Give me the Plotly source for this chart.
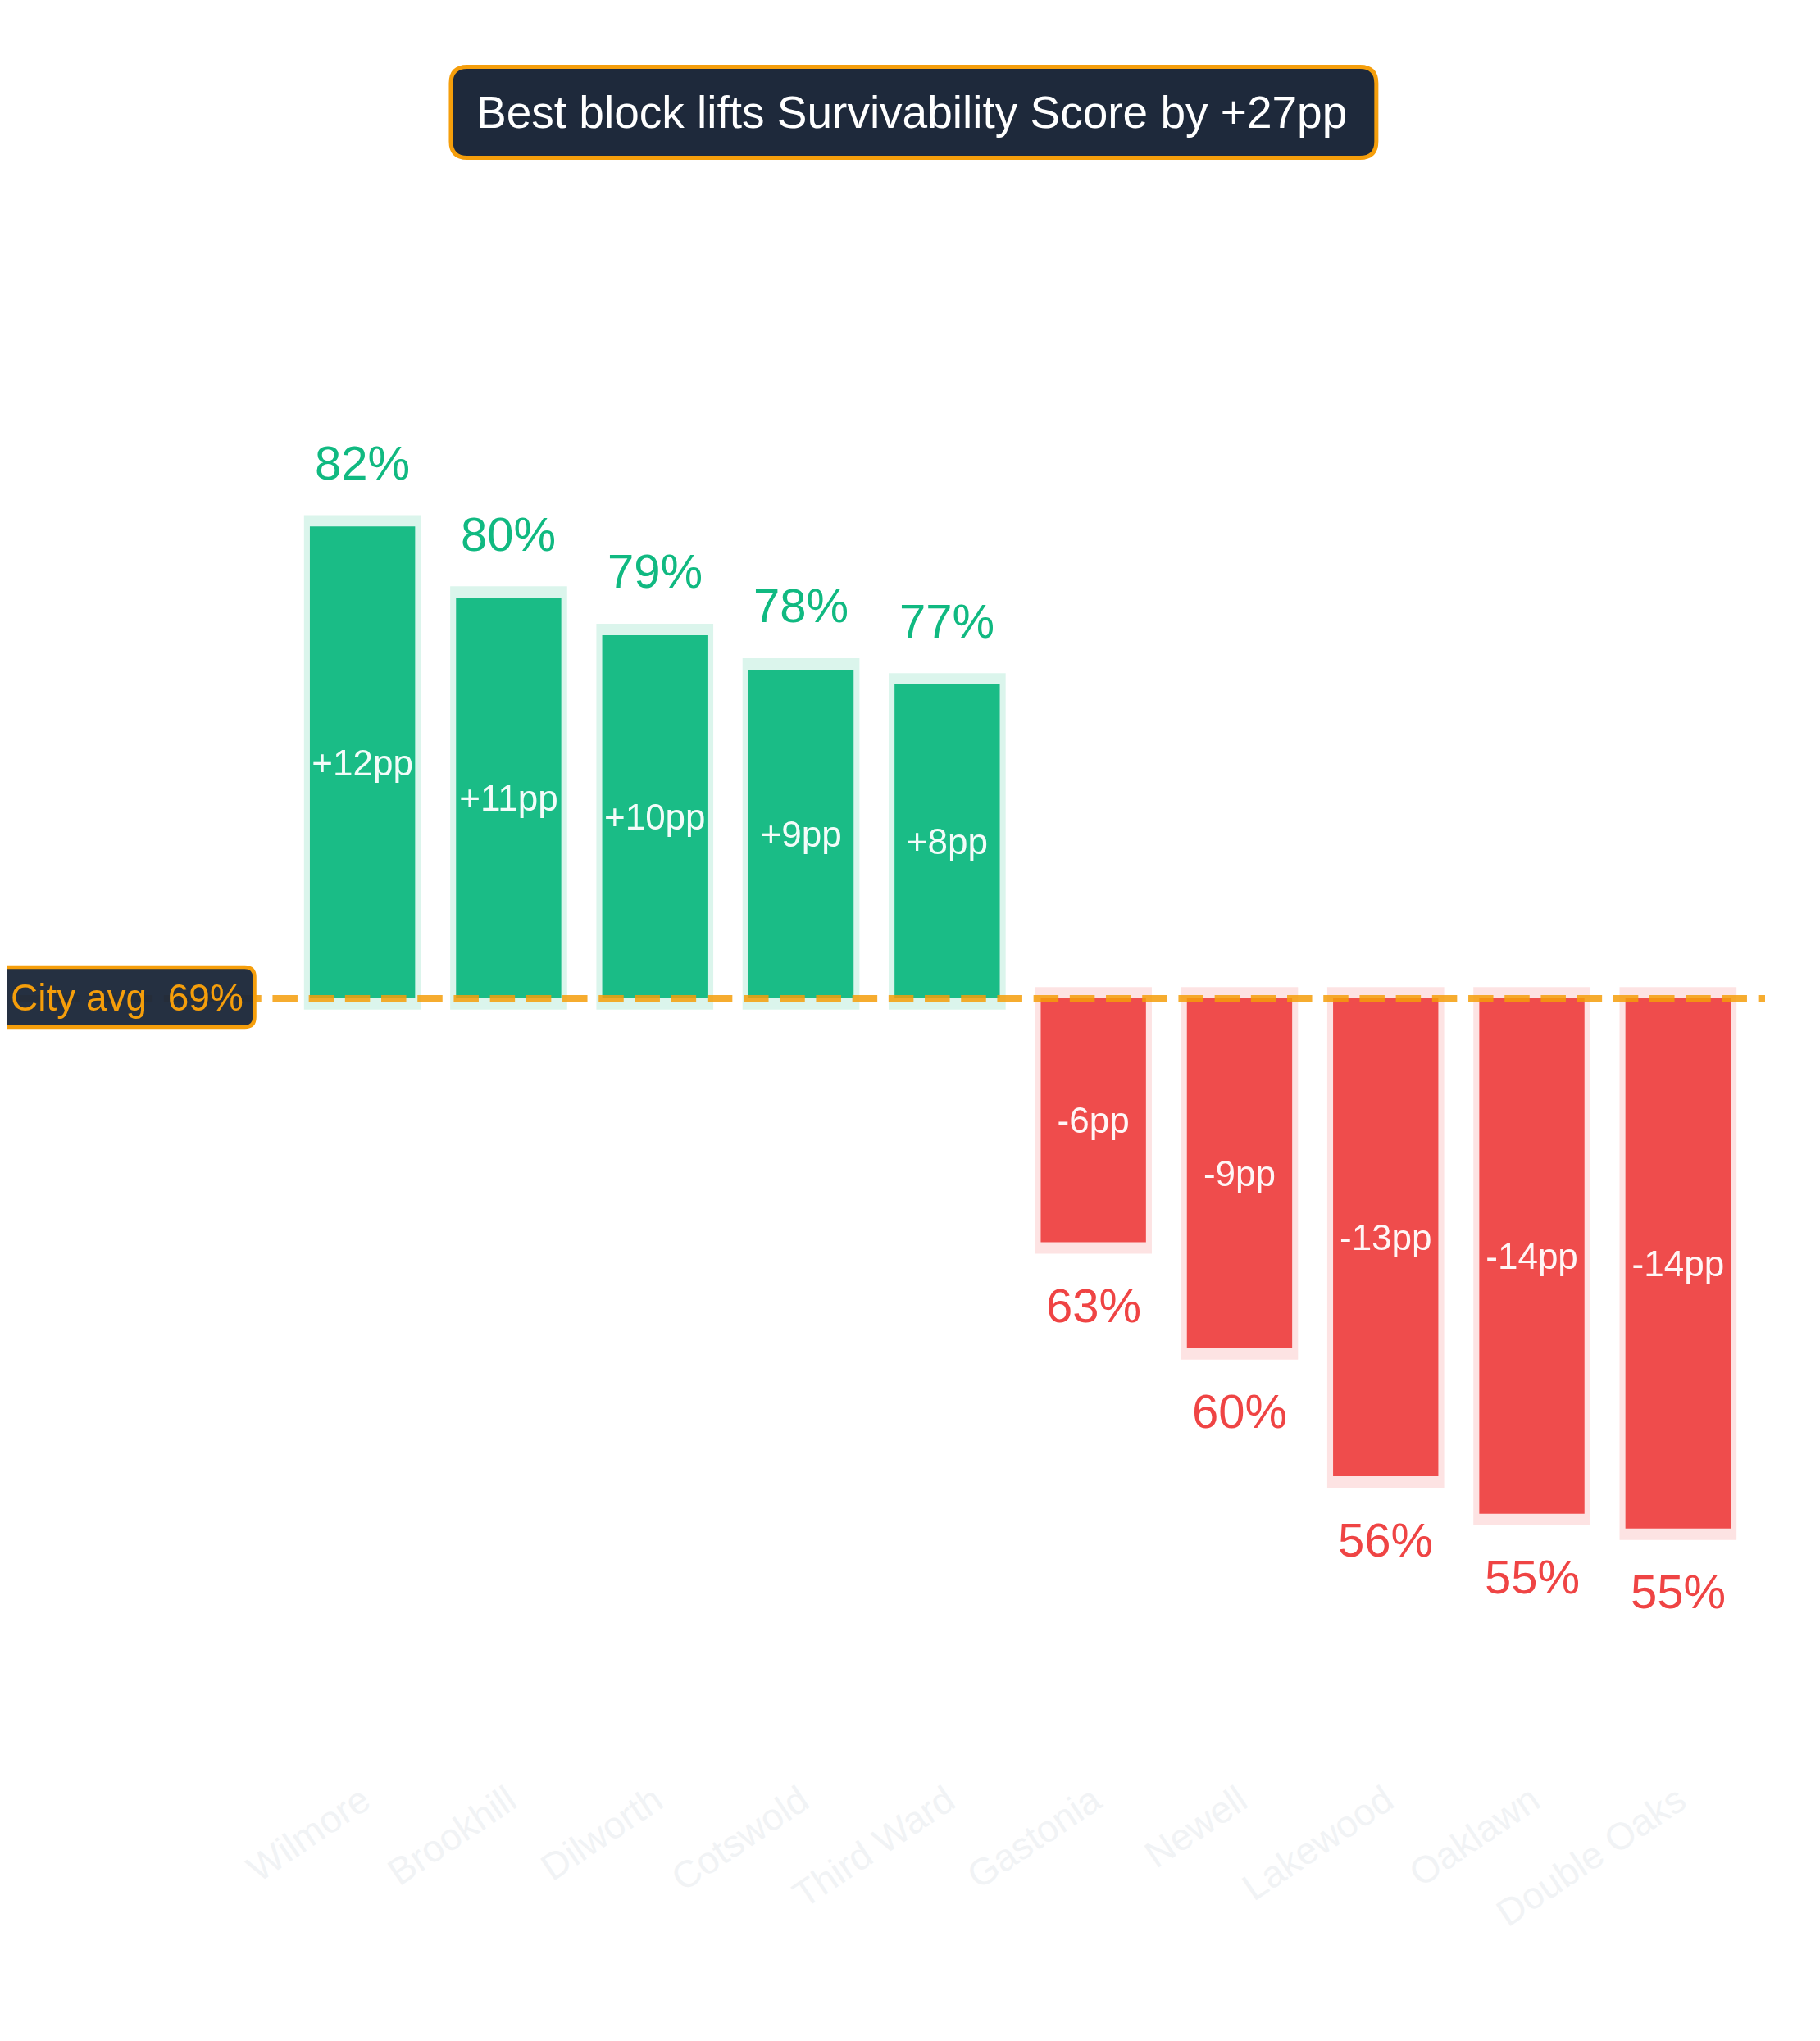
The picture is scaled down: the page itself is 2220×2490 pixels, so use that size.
import plotly.graph_objects as go

# data
neighbourhoods = ["Wilmore", "Brookhill", "Dilworth", "Cotswold", "Third Ward",
                  "Gastonia", "Newell", "Lakewood", "Oaklawn", "Double Oaks"]
scores = [81.56, 79.68, 78.69, 77.78, 77.39, 62.66, 59.86, 56.48, 55.49, 55.10]
city_avg = 69.1

# page body adds an 8px margin, so the figure is shifted; work in screen px
OFF = 8
W, H = 2220 - OFF, 2490 - OFF
PLOT_X0, PLOT_X1 = 352.5, 2135.7   # screen px of plot area
PLOT_Y0, PLOT_Y1 = 250, 2160
L, R = PLOT_X0 - OFF, W - (PLOT_X1 - OFF)
T, B = PLOT_Y0 - OFF, H - (PLOT_Y1 - OFF)
PW, PH = W - L - R, H - T - B

GREEN = "#10b981"
RED = "#ef4444"
ORANGE = "#f59e0b"
NAVY = "#1e293b"
FONT = "Liberation Sans, Arial, Helvetica, sans-serif"


def px_x(px):
    return (px - PLOT_X0) / PW


def px_y(py):
    return (PLOT_Y1 - py) / PH


def rounded_box(x0, y0, x1, y1, r):
    # screen px box -> paper path with rounded corners
    ax0, ax1 = px_x(x0), px_x(x1)
    ay0, ay1 = px_y(y0), px_y(y1)  # ay0 is top
    rx, ry = r / PW, r / PH
    return (f"M {ax0 + rx},{ay0} L {ax1 - rx},{ay0} Q {ax1},{ay0} {ax1},{ay0 - ry} "
            f"L {ax1},{ay1 + ry} Q {ax1},{ay1} {ax1 - rx},{ay1} "
            f"L {ax0 + rx},{ay1} Q {ax0},{ay1} {ax0},{ay1 + ry} "
            f"L {ax0},{ay0 - ry} Q {ax0},{ay0} {ax0 + rx},{ay0} Z")


deltas = [v - city_avg for v in scores]
above = [d >= 0 for d in deltas]
bar_colors = [GREEN if a else RED for a in above]
glow_colors = ["rgba(16,185,129,0.15)" if a else "rgba(239,68,68,0.15)" for a in above]
delta_text = [f"{d:+.0f}pp" for d in deltas]
pct_text = [f"{v:.0f}%" for v in scores]
gap = round(max(scores)) - round(min(scores))

pad = 0.3
fig = go.Figure()
fig.add_trace(go.Bar(
    x=neighbourhoods,
    y=[abs(d) + 2 * pad for d in deltas],
    base=[min(v, city_avg) - pad for v in scores],
    width=0.8,
    marker=dict(color=glow_colors, line=dict(width=0)),
    hoverinfo="skip",
    showlegend=False,
))
fig.add_trace(go.Bar(
    x=neighbourhoods,
    y=deltas,
    base=city_avg,
    width=0.72,
    marker=dict(color=bar_colors, line=dict(width=0)),
    opacity=0.95,
    text=delta_text,
    textposition="inside",
    insidetextanchor="middle",
    textangle=0,
    constraintext="none",
    textfont=dict(size=44, color="rgba(255,255,255,0.96)", family=FONT),
    showlegend=False,
))

for name, v, t, a in zip(neighbourhoods, scores, pct_text, above):
    fig.add_annotation(
        x=name, y=v, text=t, showarrow=False,
        yanchor="middle", yshift=78 if a else -77,
        font=dict(size=58, color=GREEN if a else RED, family=FONT),
    )

# city average dashed line
fig.add_shape(
    type="line", xref="paper", yref="y",
    x0=px_x(-21.7), x1=px_x(2152.7), y0=city_avg, y1=city_avg,
    line=dict(color="rgba(245,158,11,0.85)", width=8, dash="30.5px,13.7px"),
    layer="above",
)

# city average label box
fig.add_shape(
    type="path", xref="paper", yref="paper",
    path=rounded_box(-13, 1180, 310, 1253, 12),
    fillcolor="rgba(30,41,59,0.97)",
    line=dict(color=ORANGE, width=4.5),
    layer="above",
)
fig.add_annotation(
    xref="paper", yref="paper", x=px_x(10), y=px_y(1216.5),
    xanchor="left", yanchor="middle", showarrow=False,
    text=f"City avg\u00a0 {city_avg:.0f}%",
    font=dict(size=46, color=ORANGE, family=FONT),
)

# headline box
fig.add_shape(
    type="path", xref="paper", yref="paper",
    path=rounded_box(549.5, 81.5, 1678.5, 192.5, 20),
    fillcolor=NAVY,
    line=dict(color=ORANGE, width=5),
    layer="above",
)
fig.add_annotation(
    xref="paper", yref="paper", x=px_x(1112), y=px_y(137),
    xanchor="center", yanchor="middle", showarrow=False,
    text=f"Best block lifts Survivability Score by +{gap}pp",
    font=dict(size=55, color="#ffffff", family=FONT),
)

k = 46.2  # px per percentage point
base_px = 1218
fig.update_layout(
    width=W, height=H,
    margin=dict(l=L, r=R, t=T, b=B),
    paper_bgcolor="white", plot_bgcolor="white",
    barmode="overlay",
    font=dict(family=FONT),
    xaxis=dict(
        range=[-0.5, 9.5], showgrid=False, zeroline=False, showline=False,
        ticks="", tickangle=-34,
        tickfont=dict(size=46, color="#f1f3f5", family=FONT),
    ),
    yaxis=dict(
        range=[city_avg - (PLOT_Y1 - base_px) / k, city_avg + (base_px - PLOT_Y0) / k],
        showgrid=False, zeroline=False, showline=False, showticklabels=False,
        ticks="",
    ),
)

fig.write_html("out.html")
